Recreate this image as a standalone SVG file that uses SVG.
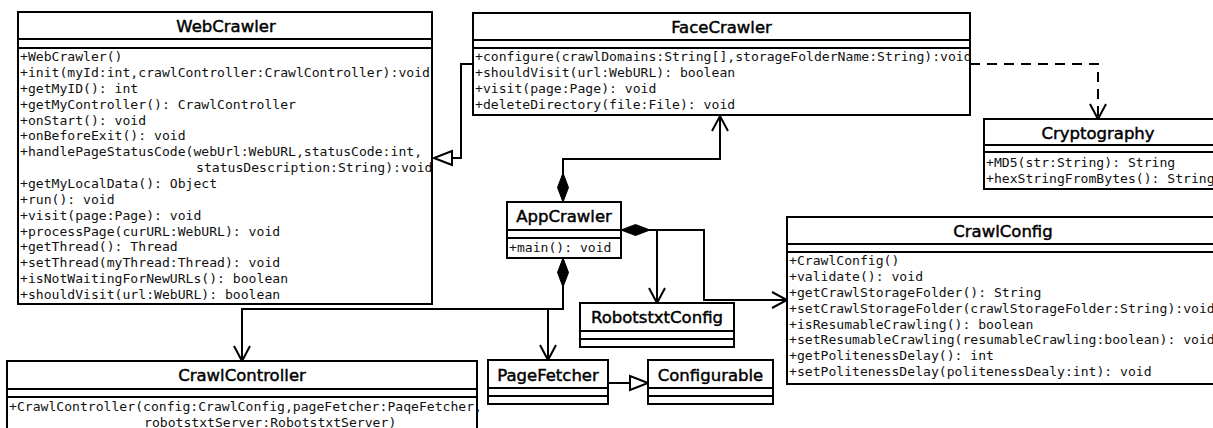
<svg xmlns="http://www.w3.org/2000/svg" width="1213" height="428" viewBox="0 0 1213 428">
  <style>
    .frame { fill: #fff; stroke: #000; stroke-width: 2; }
    .sep { stroke: #000; stroke-width: 2; }
    .title { font-family: "DejaVu Sans", "Liberation Sans", sans-serif; font-size: 16.5px; text-anchor: middle; fill: #000; stroke: #000; stroke-width: 0.45px; }
    .member { font-family: "DejaVu Sans Mono", "Liberation Mono", monospace; font-size: 13.1px; fill: #111; }
    .link { fill: none; stroke: #000; stroke-width: 2; }
    .dashed { stroke-dasharray: 10 7; }
  </style>
  <defs>
    <!-- open arrowhead: navigable association / dependency -->
    <marker id="open-arrow" markerUnits="userSpaceOnUse" markerWidth="24" markerHeight="24" viewBox="-20 -12 24 24" refX="0" refY="0" orient="auto" overflow="visible">
      <path d="M-15,-8 L0,0 L-15,8" fill="none" stroke="#000" stroke-width="2"/>
    </marker>
    <!-- filled diamond: composition (placed at the owning end) -->
    <marker id="diamond" markerUnits="userSpaceOnUse" markerWidth="34" markerHeight="16" viewBox="-2 -8 34 16" refX="0" refY="0" orient="auto" overflow="visible">
      <path d="M0,0 L14.5,-5.5 L29,0 L14.5,5.5 Z" fill="#000" stroke="#000" stroke-width="1"/>
    </marker>
    <!-- hollow triangle: generalization -->
    <marker id="triangle" markerUnits="userSpaceOnUse" markerWidth="24" markerHeight="20" viewBox="-21 -10 24 20" refX="0" refY="0" orient="auto" overflow="visible">
      <path d="M0,0 L-18,-7 L-18,7 Z" fill="#fff" stroke="#000" stroke-width="2"/>
    </marker>
  </defs>

  <rect width="1213" height="428" fill="#fff"/>

  <!-- connectors -->
  <g id="connectors">
    <path class="link" d="M473,64 H461 V158 H434" marker-end="url(#triangle)"/>
    <path class="link dashed" d="M970,64 H1098 V119" marker-end="url(#open-arrow)"/>
    <path class="link" d="M563,202 V159 H720 V116" marker-start="url(#diamond)" marker-end="url(#open-arrow)"/>
    <path class="link" d="M563,258 V309 H242 V361" marker-start="url(#diamond)" marker-end="url(#open-arrow)"/>
    <path class="link" d="M548,309 V360" marker-end="url(#open-arrow)"/>
    <path class="link" d="M621,230 H704 V300 H787" marker-start="url(#diamond)" marker-end="url(#open-arrow)"/>
    <path class="link" d="M657,230 V303" marker-end="url(#open-arrow)"/>
    <path class="link" d="M608,383 H648" marker-end="url(#triangle)"/>
  </g>

  <!-- WebCrawler -->
  <g id="WebCrawler">
    <rect class="frame" x="18" y="12" width="414" height="292"/>
    <line class="sep" x1="18" y1="39" x2="432" y2="39"/>
    <line class="sep" x1="18" y1="48" x2="432" y2="48"/>
    <text class="title" x="226" y="31.5">WebCrawler</text>
    <text class="member" x="20" y="61">+WebCrawler()</text>
    <text class="member" x="20" y="76.9">+init(myId:int,crawlController:CrawlController):void</text>
    <text class="member" x="20" y="92.7">+getMyID(): int</text>
    <text class="member" x="20" y="108.6">+getMyController(): CrawlController</text>
    <text class="member" x="20" y="124.5">+onStart(): void</text>
    <text class="member" x="20" y="140.4">+onBeforeExit(): void</text>
    <text class="member" x="20" y="156.2">+handlePageStatusCode(webUrl:WebURL,statusCode:int,</text>
    <text class="member" x="196" y="172.1">statusDescription:String):void</text>
    <text class="member" x="20" y="188">+getMyLocalData(): Object</text>
    <text class="member" x="20" y="203.8">+run(): void</text>
    <text class="member" x="20" y="219.7">+visit(page:Page): void</text>
    <text class="member" x="20" y="235.6">+processPage(curURL:WebURL): void</text>
    <text class="member" x="20" y="251.4">+getThread(): Thread</text>
    <text class="member" x="20" y="267.3">+setThread(myThread:Thread): void</text>
    <text class="member" x="20" y="283.2">+isNotWaitingForNewURLs(): boolean</text>
    <text class="member" x="20" y="299">+shouldVisit(url:WebURL): boolean</text>
  </g>

  <!-- FaceCrawler -->
  <g id="FaceCrawler">
    <rect class="frame" x="473" y="13" width="497" height="102"/>
    <line class="sep" x1="473" y1="40" x2="970" y2="40"/>
    <line class="sep" x1="473" y1="48" x2="970" y2="48"/>
    <text class="title" x="721.5" y="32.5">FaceCrawler</text>
    <text class="member" x="475" y="61">+configure(crawlDomains:String[],storageFolderName:String):void</text>
    <text class="member" x="475" y="76.9">+shouldVisit(url:WebURL): boolean</text>
    <text class="member" x="475" y="92.7">+visit(page:Page): void</text>
    <text class="member" x="475" y="108.6">+deleteDirectory(file:File): void</text>
  </g>

  <!-- Cryptography -->
  <g id="Cryptography">
    <rect class="frame" x="984" y="119" width="250" height="70"/>
    <line class="sep" x1="984" y1="145" x2="1234" y2="145"/>
    <line class="sep" x1="984" y1="152" x2="1234" y2="152"/>
    <text class="title" x="1098" y="138.5">Cryptography</text>
    <text class="member" x="986" y="167">+MD5(str:String): String</text>
    <text class="member" x="986" y="182.5">+hexStringFromBytes(): String</text>
  </g>

  <!-- AppCrawler -->
  <g id="AppCrawler">
    <rect class="frame" x="507" y="202" width="114" height="56"/>
    <line class="sep" x1="507" y1="230" x2="621" y2="230"/>
    <line class="sep" x1="507" y1="238" x2="621" y2="238"/>
    <text class="title" x="564" y="221.5">AppCrawler</text>
    <text class="member" x="509" y="252">+main(): void</text>
  </g>

  <!-- CrawlConfig -->
  <g id="CrawlConfig">
    <rect class="frame" x="787" y="217" width="450" height="167"/>
    <line class="sep" x1="787" y1="244" x2="1237" y2="244"/>
    <line class="sep" x1="787" y1="252" x2="1237" y2="252"/>
    <text class="title" x="1003" y="236.5">CrawlConfig</text>
    <text class="member" x="789" y="265">+CrawlConfig()</text>
    <text class="member" x="789" y="280.9">+validate(): void</text>
    <text class="member" x="789" y="296.7">+getCrawlStorageFolder(): String</text>
    <text class="member" x="789" y="312.6">+setCrawlStorageFolder(crawlStorageFolder:String):void</text>
    <text class="member" x="789" y="328.5">+isResumableCrawling(): boolean</text>
    <text class="member" x="789" y="344.4">+setResumableCrawling(resumableCrawling:boolean): void</text>
    <text class="member" x="789" y="360.2">+getPolitenessDelay(): int</text>
    <text class="member" x="789" y="376.1">+setPolitenessDelay(politenessDealy:int): void</text>
  </g>

  <!-- RobotstxtConfig -->
  <g id="RobotstxtConfig">
    <rect class="frame" x="580" y="303" width="154" height="44"/>
    <line class="sep" x1="580" y1="331" x2="734" y2="331"/>
    <line class="sep" x1="580" y1="339" x2="734" y2="339"/>
    <text class="title" x="657" y="322.5">RobotstxtConfig</text>
  </g>

  <!-- PageFetcher -->
  <g id="PageFetcher">
    <rect class="frame" x="488" y="360" width="120" height="44"/>
    <line class="sep" x1="488" y1="388" x2="608" y2="388"/>
    <line class="sep" x1="488" y1="396" x2="608" y2="396"/>
    <text class="title" x="548" y="380.5">PageFetcher</text>
  </g>

  <!-- Configurable -->
  <g id="Configurable">
    <rect class="frame" x="648" y="360" width="125" height="44"/>
    <line class="sep" x1="648" y1="388" x2="773" y2="388"/>
    <line class="sep" x1="648" y1="396" x2="773" y2="396"/>
    <text class="title" x="710.5" y="380.5">Configurable</text>
  </g>

  <!-- CrawlController -->
  <g id="CrawlController">
    <rect class="frame" x="7" y="361" width="470" height="80"/>
    <line class="sep" x1="7" y1="389" x2="477" y2="389"/>
    <line class="sep" x1="7" y1="397" x2="477" y2="397"/>
    <text class="title" x="242" y="381">CrawlController</text>
    <text class="member" x="9" y="411">+CrawlController(config:CrawlConfig,pageFetcher:PaqeFetcher,</text>
    <text class="member" x="144" y="426.5">robotstxtServer:RobotstxtServer)</text>
  </g>
</svg>
